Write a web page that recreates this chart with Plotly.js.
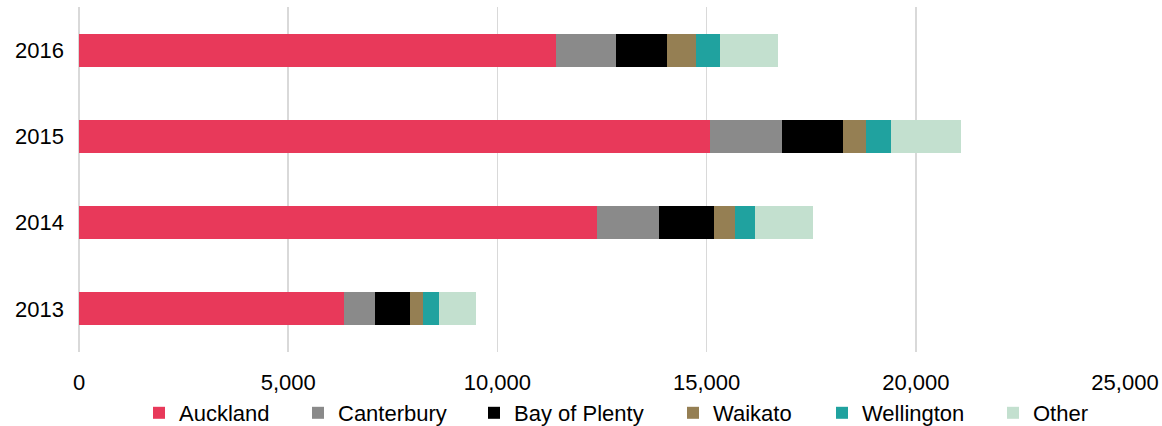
<!DOCTYPE html>
<html>
<head>
<meta charset="utf-8">
<script src="https://cdn.plot.ly/plotly-3.0.1.min.js"></script>
<style>
  html, body { margin: 0; padding: 0; background: #ffffff; }
  #chart { width: 1162px; height: 426px; }
</style>
</head>
<body>
<div id="chart"></div>
<script>
// Years shown on the category axis (bottom to top)
const years = ['2013', '2014', '2015', '2016'];

// Count by region for each year
const auckland    = [6340, 12370, 15080, 11390];
const canterbury  = [740, 1490, 1730, 1435];
const bayOfPlenty = [820, 1315, 1460, 1235];
const waikato     = [310, 495, 550, 685];
const wellington  = [390, 495, 580, 575];
const other       = [885, 1380, 1675, 1390];

const regionNames = ['Auckland', 'Canterbury', 'Bay of Plenty', 'Waikato', 'Wellington', 'Other'];
const regionSeries = [auckland, canterbury, bayOfPlenty, waikato, wellington, other];
const regionColors = ['#E8395A', '#8A8A8A', '#000000', '#957F53', '#20A29F', '#C3E0CF'];

// Left edge (px) of each legend entry along the bottom row
const legendLeft = [139, 298, 474, 673, 822, 993];

const W = 1162, H = 426;
const fontFamily = '"Liberation Sans", Arial, sans-serif';

const legendId = i => (i === 0 ? 'legend' : 'legend' + (i + 1));

const traces = regionNames.map((name, i) => ({
  type: 'bar',
  orientation: 'h',
  name: name,
  y: years,
  x: regionSeries[i],
  legend: legendId(i),
  marker: { color: regionColors[i], line: { width: 0 } },
  hoverinfo: 'name+x'
}));

const layout = {
  width: W,
  height: H,
  margin: { l: 79, r: 37, t: 7, b: 74 },
  paper_bgcolor: '#ffffff',
  plot_bgcolor: '#ffffff',
  font: { family: fontFamily, size: 22, color: '#000000' },
  barmode: 'stack',
  bargap: 0.62,
  showlegend: true,
  xaxis: {
    range: [0, 25000],
    tickvals: [0, 5000, 10000, 15000, 20000, 25000],
    tickformat: ',d',
    showgrid: true,
    gridcolor: '#D9D9D9',
    gridwidth: 1.5,
    zeroline: true,
    zerolinecolor: '#D9D9D9',
    zerolinewidth: 1.5,
    showline: false,
    ticks: '',
    ticklabelstandoff: 15,
    fixedrange: true
  },
  yaxis: {
    type: 'category',
    categoryorder: 'array',
    categoryarray: years,
    showgrid: false,
    zeroline: false,
    showline: false,
    ticks: '',
    ticklabelstandoff: 14,
    fixedrange: true
  }
};

// One single-entry legend per region so each entry sits at its own spot
legendLeft.forEach((left, i) => {
  layout[legendId(i)] = {
    orientation: 'h',
    xref: 'container',
    yref: 'container',
    x: left / W,
    xanchor: 'left',
    y: 13 / H,
    yanchor: 'middle',
    font: { family: fontFamily, size: 22, color: '#000000' },
    bgcolor: 'rgba(0,0,0,0)'
  };
});

Plotly.newPlot('chart', traces, layout, { displayModeBar: false, staticPlot: true });
</script>
</body>
</html>
